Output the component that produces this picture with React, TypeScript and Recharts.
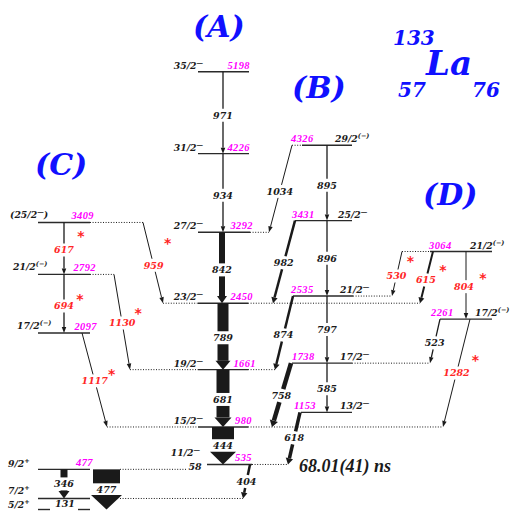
import React from "react";
import { ComposedChart, XAxis, YAxis, ReferenceLine, ReferenceDot } from "recharts";

// levels (keV) with spin|parity
const bandA = [
  { e: 5198, jpi: "35/2|−" },
  { e: 4226, jpi: "31/2|−" },
  { e: 3292, jpi: "27/2|−" },
  { e: 2450, jpi: "23/2|−" },
  { e: 1661, jpi: "19/2|−" },
  { e: 980, jpi: "15/2|−" },
  { e: 535, jpi: "11/2|−" },
];
const bandB = [
  { e: 4326, jpi: "29/2|(−)" },
  { e: 3431, jpi: "25/2|−" },
  { e: 2535, jpi: "21/2|−" },
  { e: 1738, jpi: "17/2|−" },
  { e: 1153, jpi: "13/2|−" },
];
const bandC = [
  { e: 3409, jpi: "(25/2|−|)" },
  { e: 2792, jpi: "21/2|(−)" },
  { e: 2097, jpi: "17/2|(−)" },
];
const bandD = [
  { e: 3064, jpi: "21/2|(−)" },
  { e: 2261, jpi: "17/2|(−)" },
];
const groundLevels = [
  { e: 477, jpi: "9/2|+" },
  { e: 131, jpi: "7/2|+" },
  { e: 0, jpi: "5/2|+" },
];
const hiddenEnergy = [131, 0];

// gamma rays: energy, initial/final level, width ~ intensity, new = red
const gammasA = [
  { eg: 971, from: 5198, to: 4226, inten: 1.3, isNew: false },
  { eg: 934, from: 4226, to: 3292, inten: 1.3, isNew: false },
  { eg: 842, from: 3292, to: 2450, inten: 6, isNew: false },
  { eg: 789, from: 2450, to: 1661, inten: 11, isNew: false },
  { eg: 681, from: 1661, to: 980, inten: 13, isNew: false },
  { eg: 444, from: 980, to: 535, inten: 22, isNew: false },
];
const gammasB = [
  { eg: 895, from: 4326, to: 3431, inten: 1.3, isNew: false },
  { eg: 896, from: 3431, to: 2535, inten: 1.3, isNew: false },
  { eg: 797, from: 2535, to: 1738, inten: 1.3, isNew: false },
  { eg: 585, from: 1738, to: 1153, inten: 1.3, isNew: false },
  { eg: 1034, from: 4326, to: 3292, inten: 1, isNew: false },
  { eg: 982, from: 3431, to: 2450, inten: 2.5, isNew: false },
  { eg: 874, from: 2535, to: 1661, inten: 2.5, isNew: false },
  { eg: 758, from: 1738, to: 980, inten: 4.5, isNew: false },
  { eg: 618, from: 1153, to: 535, inten: 3.5, isNew: false },
];
const gammasC = [
  { eg: 617, from: 3409, to: 2792, inten: 1.3, isNew: true },
  { eg: 694, from: 2792, to: 2097, inten: 1.3, isNew: true },
  { eg: 959, from: 3409, to: 2450, inten: 1, isNew: true },
  { eg: 1130, from: 2792, to: 1661, inten: 1, isNew: true },
  { eg: 1117, from: 2097, to: 980, inten: 1, isNew: true },
];
const gammasD = [
  { eg: 530, from: 3064, to: 2535, inten: 1, isNew: true },
  { eg: 615, from: 3064, to: 2450, inten: 2, isNew: true },
  { eg: 804, from: 3064, to: 2261, inten: 1, isNew: true },
  { eg: 523, from: 2261, to: 1738, inten: 1.3, isNew: false },
  { eg: 1282, from: 2261, to: 980, inten: 1, isNew: true },
];
const gammasLow = [
  { eg: 404, from: 535, to: 131, inten: 2.5, isNew: false },
  { eg: 346, from: 477, to: 131, inten: 7, isNew: false },
  { eg: 477, from: 477, to: 0, inten: 27, isNew: false },
  { eg: 131, from: 131, to: 0, inten: 0, isNew: false },
  { eg: 58, from: 535, to: 477, inten: 0, isNew: false },
];

const INK = "#1a1a1a";
const RED = "#ff2626";
const MAGENTA = "#ff00ff";
const BLUE = "#1010ff";
const SERIF = "'DejaVu Serif', serif";
const TIMES = "'Liberation Serif', serif";

const E_MIN = -17.8;
const E_MAX = 6051;

type Anchor = "start" | "end";
type LevelLay = { solid: [number, number][]; dotted?: [number, number][]; spin: [number, number, Anchor]; en?: [number, Anchor] };

const levelLayout: Record<number, LevelLay> = {
  5198: { solid: [[198, 249]], spin: [203, -3, "end"], en: [250, "end"] },
  4226: { solid: [[198, 249]], spin: [203, -3, "end"], en: [250, "end"] },
  3292: { solid: [[198, 250]], dotted: [[250, 269]], spin: [203, -3, "end"], en: [253, "end"] },
  2450: { solid: [[198, 248]], dotted: [[163, 198], [248, 420]], spin: [203, -3, "end"], en: [253, "end"] },
  1661: { solid: [[198, 248]], dotted: [[130, 198], [248, 275]], spin: [203, -3, "end"], en: [256, "end"] },
  980: { solid: [[198, 248]], dotted: [[107, 198], [248, 443]], spin: [203, -3, "end"], en: [252, "end"] },
  535: { solid: [[207, 252]], dotted: [[252, 288]], spin: [200, -8, "end"], en: [252, "end"] },
  4326: { solid: [[302, 352]], dotted: [[292, 302]], spin: [335, -3, "start"], en: [291, "start"] },
  3431: { solid: [[295, 352]], spin: [338, -3, "start"], en: [292, "start"] },
  2535: { solid: [[293, 353]], dotted: [[353, 392]], spin: [340, -3, "start"], en: [291, "start"] },
  1738: { solid: [[292, 352]], dotted: [[352, 430]], spin: [340, -3, "start"], en: [292, "start"] },
  1153: { solid: [[301, 352]], spin: [340, -3, "start"], en: [294, "start"] },
  3064: { solid: [[430, 492]], dotted: [[402, 430]], spin: [470, -3, "start"], en: [429, "start"] },
  2261: { solid: [[440, 492]], spin: [475, -3, "start"], en: [431, "start"] },
  3409: { solid: [[38, 90]], dotted: [[90, 143]], spin: [10, -4, "start"], en: [94, "end"] },
  2792: { solid: [[38, 90]], dotted: [[90, 114]], spin: [13, -4, "start"], en: [96, "end"] },
  2097: { solid: [[38, 90]], spin: [17, -4, "start"], en: [97, "end"] },
  477: { solid: [[38, 90]], dotted: [[120, 187]], spin: [8, -2, "start"], en: [93, "end"] },
  131: { solid: [[38, 90]], dotted: [[120, 243]], spin: [8, -4, "start"] },
  0: { solid: [[38, 50], [78, 90]], spin: [8, -1.5, "start"] },
};

type GammaLay = { x1: number; x2: number; t?: number; dx?: number; star?: [number, number] };
const gammaLayout: Record<number, GammaLay> = {
  971: { x1: 223, x2: 223, t: 0.53 },
  934: { x1: 223, x2: 223, t: 0.53 },
  842: { x1: 222, x2: 222, t: 0.53 },
  789: { x1: 223, x2: 223, t: 0.52 },
  681: { x1: 223, x2: 223, t: 0.52 },
  444: { x1: 223, x2: 223, t: 0.5 },
  895: { x1: 327, x2: 327, t: 0.53 },
  896: { x1: 327, x2: 327, t: 0.5 },
  797: { x1: 327, x2: 327, t: 0.5 },
  585: { x1: 327, x2: 327, t: 0.52 },
  1034: { x1: 292, x2: 269, t: 0.53 },
  982: { x1: 295, x2: 273, t: 0.51 },
  874: { x1: 293, x2: 275, t: 0.53 },
  758: { x1: 291, x2: 272, t: 0.51 },
  618: { x1: 300, x2: 288, t: 0.49 },
  404: { x1: 250, x2: 243, t: 0.5 },
  617: { x1: 64, x2: 64, t: 0.53, star: [17, -17] },
  694: { x1: 64, x2: 64, t: 0.54, star: [16, -10] },
  959: { x1: 143, x2: 163, t: 0.53, star: [14, -25] },
  1130: { x1: 114, x2: 130, t: 0.51, star: [16, -13] },
  1117: { x1: 82, x2: 107, t: 0.51, star: [17, -10] },
  530: { x1: 402, x2: 392, t: 0.55, star: [14, -18] },
  615: { x1: 433, x2: 420, t: 0.55, star: [17, -13] },
  804: { x1: 466, x2: 466, t: 0.52, dx: -2, star: [19, -11] },
  523: { x1: 440, x2: 430, t: 0.54 },
  1282: { x1: 470, x2: 443, t: 0.5, star: [19, -16] },
  346: { x1: 64, x2: 64, t: 0.5 },
  477: { x1: 106.5, x2: 106.5, t: 0.51 },
  131: { x1: 65, x2: 65, t: 0.5 },
  58: { x1: 195, x2: 195, t: 0.5 },
};

const allLevels = [...bandA, ...bandB, ...bandC, ...bandD, ...groundLevels];
const allGammas = [...gammasA, ...gammasB, ...gammasC, ...gammasD, ...gammasLow];

type Gamma = (typeof allGammas)[number];

const bold = { fontStyle: "italic", fontWeight: "bold" } as const;

function spinText(jpi: string, x: number, y: number, anchor: Anchor) {
  const [base, sup, tail] = jpi.split("|");
  const shown = sup === "−" ? "—" : sup;
  return (
    <text x={x} y={y} textAnchor={anchor} fontFamily={SERIF} fontSize={9.3} fill={INK} {...bold}>
      {base}
      <tspan dy={-4} fontSize={6.5}>{shown}</tspan>
      {tail ? <tspan dy={4} fontSize={9.3}>{tail}</tspan> : null}
    </text>
  );
}

function gammaShape(g: Gamma, lay: GammaLay) {
  return (p: any) => {
    const { x1, y1, x2, y2 } = p;
    const t = lay.t ?? 0.52;
    const dx = x2 - x1;
    const dy = y2 - y1;
    const lx = x1 + dx * t + (lay.dx ?? 0);
    const ly = y1 + dy * t;
    const col = g.isNew ? RED : INK;
    const parts: React.ReactNode[] = [];
    const w = g.inten;
    if (w > 0) {
      const len = Math.hypot(dx, dy);
      const ux = dx / len;
      const uy = dy / len;
      const nx = -uy;
      const ny = ux;
      const thin = w < 2;
      const hw = thin ? 4.5 : w + 4;
      const hl = thin ? 6 : 5 + w * 0.35;
      const bx = x2 - ux * hl;
      const by = y2 - uy * hl;
      const tBase = (len - hl) / len;
      const gap = 6.5;
      const tg1 = (ly - gap - y1) / dy;
      const tg2 = (ly + gap - y1) / dy;
      const at = (s: number) => [x1 + dx * s, y1 + dy * s];
      const segs: [number, number][] = [[0, Math.min(tg1, tBase)]];
      if (tg2 < tBase) segs.push([tg2, tBase]);
      segs.forEach(([a, b], i) => {
        const [ax, ay] = at(a);
        const [cx, cy] = at(b);
        parts.push(<line key={"s" + i} x1={ax} y1={ay} x2={cx} y2={cy} stroke={INK} strokeWidth={w} />);
      });
      parts.push(
        <polygon
          key="head"
          points={`${x2},${y2} ${bx + (nx * hw) / 2},${by + (ny * hw) / 2} ${bx - (nx * hw) / 2},${by - (ny * hw) / 2}`}
          fill={INK}
        />
      );
    }
    parts.push(
      <text key="lbl" x={lx} y={ly} dy="0.36em" textAnchor="middle" fontFamily={SERIF} fontSize={9.5} fill={col} {...bold}>
        {g.eg}
      </text>
    );
    if (lay.star) {
      parts.push(
        <text key="star" x={lx + lay.star[0]} y={ly + lay.star[1]} dy="0.55em" textAnchor="middle" fontFamily="'DejaVu Sans', sans-serif" fontSize={14} fontWeight="bold" fill={RED}>
          *
        </text>
      );
    }
    return <g>{parts}</g>;
  };
}

const anchorPoints = allLevels.map((l) => ({ x: 0, y: l.e }));

export default function App() {
  return (
    <div style={{ position: "absolute", left: 0, top: 0, width: 510, height: 511, background: "#fff" }}>
      <ComposedChart width={510} height={511} margin={{ top: 0, right: 0, bottom: 0, left: 0 }} data={anchorPoints}>
        <XAxis type="number" dataKey="x" domain={[0, 510]} hide allowDataOverflow />
        <YAxis type="number" dataKey="y" domain={[E_MIN, E_MAX]} hide allowDataOverflow />
        {allLevels.flatMap((l) =>
          (levelLayout[l.e].dotted ?? []).map(([a, b], i) => (
            <ReferenceLine
              key={`d${l.e}-${i}`}
              segment={[{ x: a, y: l.e }, { x: b, y: l.e }]}
              stroke={INK}
              strokeWidth={1}
              strokeDasharray="1 1.6"
              ifOverflow="visible"
            />
          ))
        )}
        {allLevels.flatMap((l) =>
          levelLayout[l.e].solid.map(([a, b], i) => (
            <ReferenceLine
              key={`l${l.e}-${i}`}
              segment={[{ x: a, y: l.e }, { x: b, y: l.e }]}
              stroke="#2a2a2a"
              strokeWidth={1.4}
              ifOverflow="visible"
            />
          ))
        )}
        {allGammas.map((g) => {
          const lay = gammaLayout[g.eg];
          return (
            <ReferenceLine
              key={`g${g.eg}`}
              segment={[{ x: lay.x1, y: g.from }, { x: lay.x2, y: g.to }]}
              ifOverflow="visible"
              shape={gammaShape(g, lay)}
            />
          );
        })}
        {allLevels.map((l) => {
          const [sx, sdy, sa] = levelLayout[l.e].spin;
          return (
            <ReferenceDot
              key={`sp${l.e}`}
              x={sx}
              y={l.e}
              r={0}
              ifOverflow="visible"
              shape={(p: any) => spinText(l.jpi, p.cx, p.cy + sdy, sa)}
            />
          );
        })}
        {allLevels
          .filter((l) => !hiddenEnergy.includes(l.e))
          .map((l) => {
            const en = levelLayout[l.e].en!;
            return (
              <ReferenceDot
                key={`en${l.e}`}
                x={en[0]}
                y={l.e}
                r={0}
                ifOverflow="visible"
                shape={(p: any) => (
                  <text x={p.cx} y={p.cy - 3} textAnchor={en[1]} fontFamily={TIMES} fontSize={10.5} letterSpacing={0.4} fill={MAGENTA} {...bold}>
                    {l.e}
                  </text>
                )}
              />
            );
          })}
      </ComposedChart>
      <svg width={510} height={511} style={{ position: "absolute", left: 0, top: 0, pointerEvents: "none" }}>
        <g fontFamily={SERIF} fill={BLUE} {...bold}>
          <text x={193} y={37} fontSize={30}>(A)</text>
          <text x={292} y={98} fontSize={30}>(B)</text>
          <text x={35} y={175} fontSize={30}>(C)</text>
          <text x={423} y={205} fontSize={30}>(D)</text>
          <text x={393} y={45} fontSize={20}>133</text>
          <text x={426} y={75} fontSize={34}>La</text>
          <text x={398} y={97} fontSize={20}>57</text>
          <text x={472} y={97} fontSize={20}>76</text>
        </g>
        <text x={299} y={472} fontFamily={TIMES} fontSize={18} fill={INK} {...bold}>
          68.01(41) ns
        </text>
      </svg>
    </div>
  );
}
